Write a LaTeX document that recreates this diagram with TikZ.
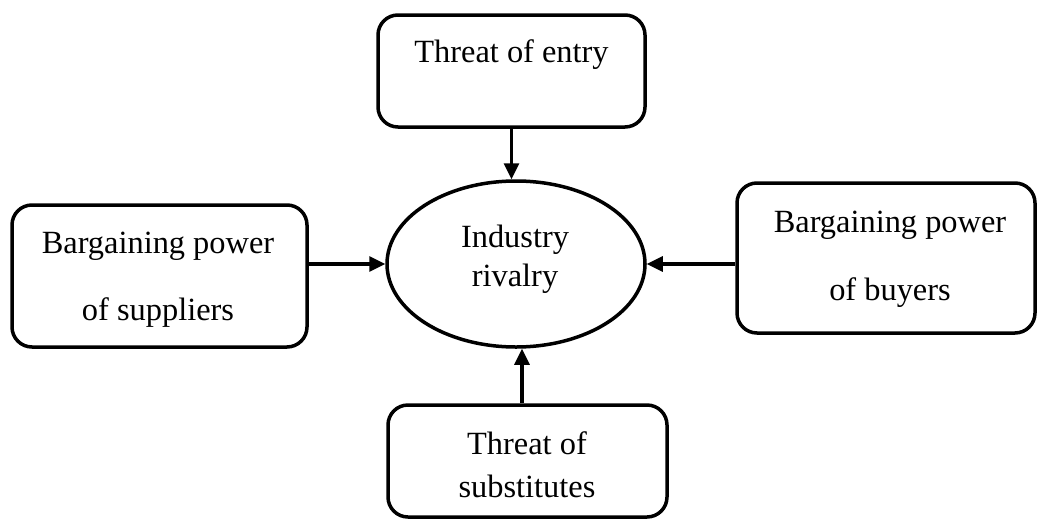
\documentclass[tikz,border=0pt]{standalone}
\usepackage{fontspec}
\setmainfont{Liberation Serif}
\usetikzlibrary{arrows.meta,shapes.geometric}
\begin{document}
\begin{tikzpicture}[x=0.5pt,y=-0.5pt,
  force/.style={draw=black,line width=1.75pt,rounded corners=10pt,inner sep=0pt},
  rivalry/.style={draw=black,line width=1.75pt,ellipse,inner sep=0pt},
  lbl/.style={inner sep=0pt,font=\fontsize{16.2}{19}\selectfont},
  arr/.style={line width=1.6pt,-{Triangle[length=8pt,width=7.5pt]}}]
\useasboundingbox (0,0) rectangle (1038,520);

% five forces boxes
\node[force,minimum width=133.5pt,minimum height=56pt] (entry) at (511.5,71) {};
\node[force,minimum width=147.5pt,minimum height=71pt] (supp) at (159.5,276) {};
\node[force,minimum width=149pt,minimum height=75pt] (buy) at (886,258) {};
\node[force,minimum width=139.5pt,minimum height=56pt] (subst) at (527.5,461) {};
\node[rivalry,minimum width=129pt,minimum height=83pt] (ind) at (516,264) {};

% labels
\node[lbl] (tEntry) at (511.5,55) {Threat of entry};
\node[lbl] (tSupp1) at (158,246) {Bargaining power};
\node[lbl] (tSupp2) at (158,313) {of suppliers};
\node[lbl] (tBuy1) at (890,225) {Bargaining power};
\node[lbl] (tBuy2) at (890,293) {of buyers};
\node[lbl] (tSub1) at (527,443) {Threat of};
\node[lbl] (tSub2) at (527,486) {substitutes};
\node[lbl] (tInd1) at (515,240) {Industry};
\node[lbl] (tInd2) at (515,279) {rivalry};

% arrows into the rivalry ellipse
\draw[arr] (entry.south) -- (entry.south |- ind.north);
\draw[arr] (subst.north -| ind.south) ++(6,0) coordinate (sb) (sb |- subst.north) -- (sb |- ind.south);
\draw[arr] (supp.east |- ind.west) -- (ind.west);
\draw[arr] (buy.west |- ind.east) -- (ind.east);
\end{tikzpicture}
\end{document}
